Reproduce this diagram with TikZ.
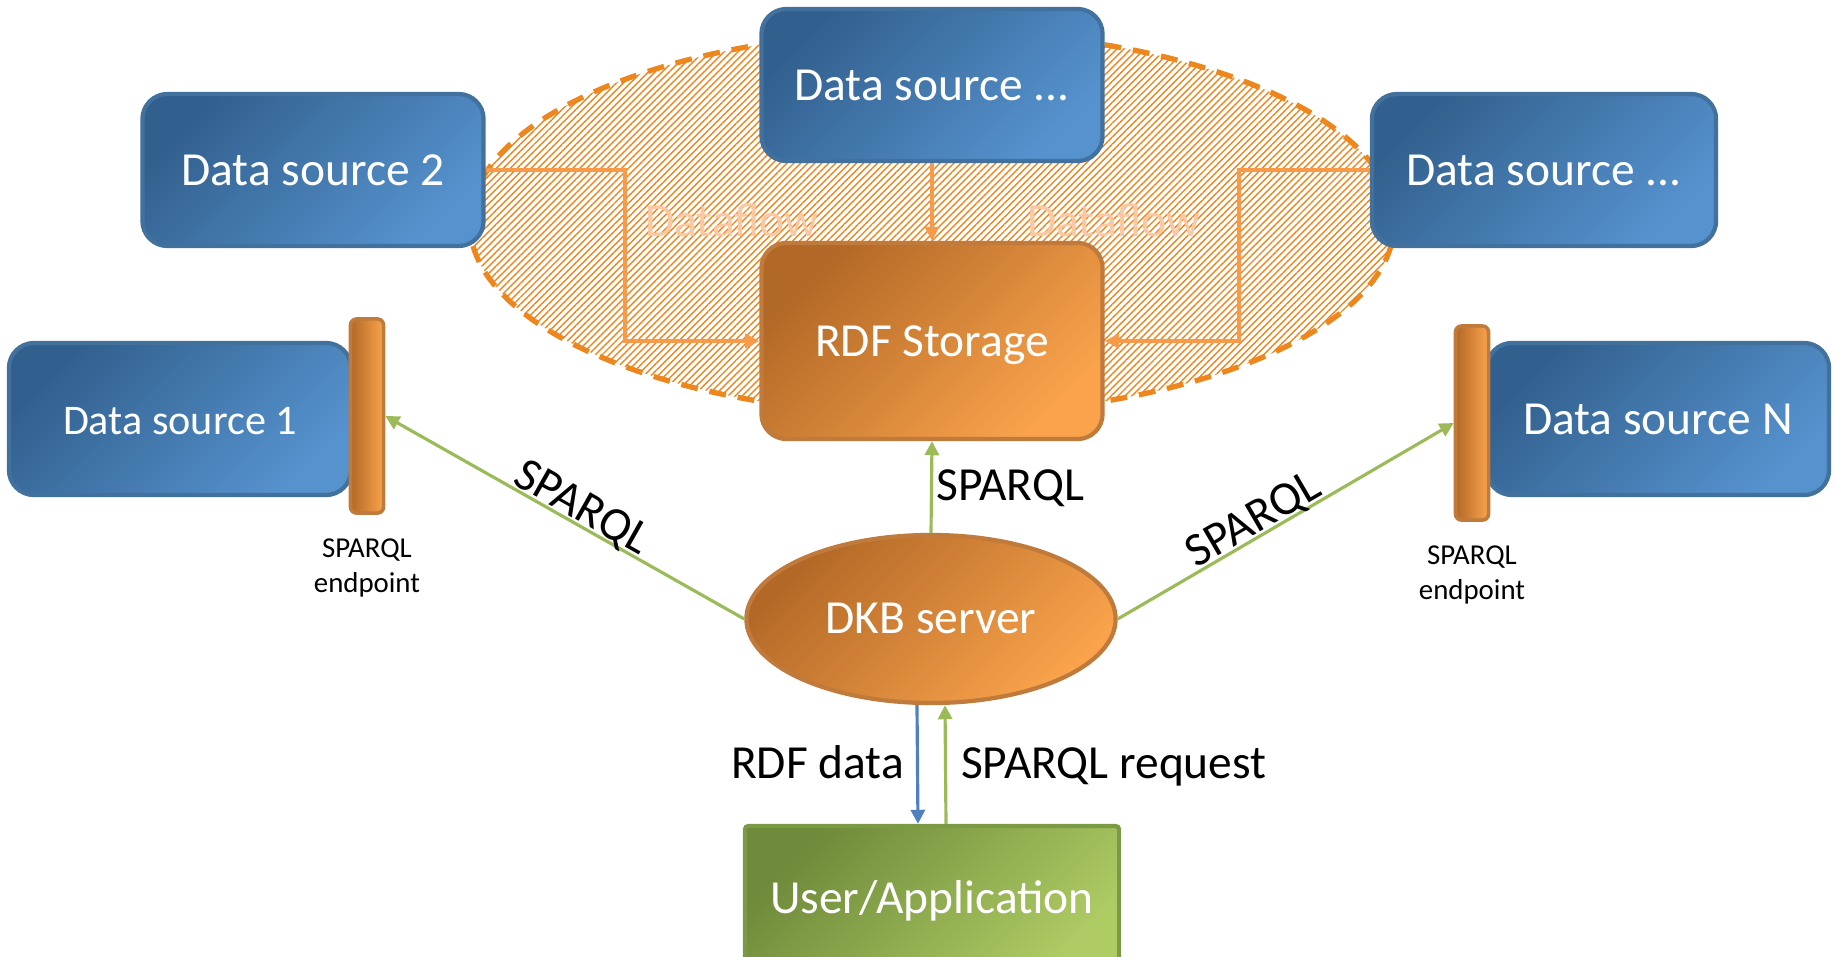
\documentclass[tikz,border=0pt]{standalone}
\usepackage{fontspec}
\setmainfont{Carlito}
\usetikzlibrary{shapes}
\usetikzlibrary{positioning}
\usetikzlibrary{arrows.meta}
\usetikzlibrary{patterns.meta}

\definecolor{srcDark}{RGB}{50,96,142}
\definecolor{srcLight}{RGB}{86,146,206}
\definecolor{srcEdge}{RGB}{65,113,156}
\definecolor{orgDark}{RGB}{178,104,38}
\definecolor{orgLight}{RGB}{250,163,76}
\definecolor{orgEdge}{RGB}{192,122,60}
\definecolor{appDark}{RGB}{110,138,58}
\definecolor{appLight}{RGB}{174,203,100}
\definecolor{appEdge}{RGB}{122,155,68}
\definecolor{cloudEdge}{RGB}{238,134,30}
\definecolor{flowLine}{RGB}{247,155,75}
\definecolor{flowText}{RGB}{250,200,162}
\definecolor{sparqlGreen}{RGB}{155,187,89}
\definecolor{rdfBlue}{RGB}{79,129,189}

\begin{document}
\begin{tikzpicture}[x=0.01cm, y=-0.01cm,
    datasrc/.style = {rectangle, rounded corners=0.25cm, draw=srcEdge, line width=1.2pt,
                      top color=srcDark, bottom color=srcLight, shading angle=45,
                      text=white, minimum width=3.41cm, minimum height=1.52cm,
                      text height=0.88em, text depth=0pt,
                      font=\fontsize{13.5}{16}\selectfont},
    rdfstore/.style = {rectangle, rounded corners=0.25cm, draw=orgEdge, line width=1.2pt,
                       top color=orgDark, bottom color=orgLight, shading angle=45,
                       text=white, minimum width=3.41cm, minimum height=1.96cm,
                       text height=0.88em, text depth=0pt,
                       font=\fontsize{13.5}{16}\selectfont},
    endpt/.style = {rectangle, rounded corners=0.06cm, draw=orgEdge, line width=1pt,
                    left color=orgDark, right color=orgLight, inner sep=0pt,
                    minimum width=0.33cm, minimum height=1.94cm},
    server/.style = {ellipse, draw=orgEdge, line width=1.2pt,
                     top color=orgDark, bottom color=orgLight, shading angle=45,
                     text=white, inner sep=0pt, minimum width=3.69cm, minimum height=1.68cm,
                     text height=0.8em, text depth=0pt,
                     font=\fontsize{13.5}{16}\selectfont},
    userapp/.style = {rectangle, rounded corners=1pt, draw=appEdge, line width=1.2pt,
                      top color=appDark, bottom color=appLight, shading angle=45,
                      text=white, minimum width=3.74cm, minimum height=1.5cm,
                      font=\fontsize{13.5}{16}\selectfont},
    cloud/.style = {ellipse, draw=cloudEdge, line width=1.5pt, dash pattern=on 4.8pt off 3.4pt,
                    pattern={Lines[angle=45, distance=1.4pt, line width=0.4pt]},
                    pattern color=cloudEdge, inner sep=0pt,
                    minimum width=9.24cm, minimum height=3.84cm},
    flowarrow/.style = {draw=flowLine, line width=1pt, -{Triangle[length=4pt, width=4pt]}},
    queryarrow/.style = {draw=sparqlGreen, line width=0.9pt, -{Triangle[length=4pt, width=4pt]}},
    dataarrow/.style = {draw=rdfBlue, line width=0.9pt, -{Triangle[length=4pt, width=4pt]}},
    linelabel/.style = {text=black, text height=0.8em, text depth=0.03em,
                        font=\fontsize{13.5}{16}\selectfont},
    flowlabel/.style = {text=flowText, font=\fontsize{13.5}{16}\selectfont},
    eplabel/.style = {align=center, inner sep=0pt, font=\fontsize{8.2}{10}\selectfont}]

    \useasboundingbox (0,0) rectangle (1835,957);
    \clip (0,0) rectangle (1835,957);

    % shaded area behind the dataflow
    \node[cloud] (area) at (932,223) {};

    \node[datasrc] (dsTop) at (932,85) {Data source ...};
    \node[datasrc] (ds2) at (313,170) {Data source 2};
    \node[datasrc, minimum width=3.44cm] (dsR) at (1544,170) {Data source ...};
    \node[rdfstore] (rdf) at (932,341) {RDF Storage};

    \node[datasrc, minimum width=3.42cm, font=\fontsize{12}{14}\selectfont] (ds1) at (180,419) {Data source 1};
    \node[datasrc, minimum width=3.42cm] (dsN) at (1658,419) {Data source N};
    \node[endpt] (epL) at (367,416) {};
    \node[endpt] (epR) at (1472,423) {};
    \node[eplabel, below=2.3mm of epL] (epLtext) {SPARQL\\endpoint};
    \node[eplabel, below=2.3mm of epR] (epRtext) {SPARQL\\endpoint};

    \node[server] (dkb) at (931,619) {DKB server};
    \node[userapp] (user) at (932,901) {User/Application};

    \node[flowlabel] (flowL) at (732,220) {Dataflow};
    \node[flowlabel] (flowR) at (1114,220) {Dataflow};

    % dataflow into the storage
    \draw[flowarrow] (ds2.east) -- ++(139.5,0) |- (rdf.west);
    \draw[flowarrow] (dsR.west) -- ++(-131,0) |- (rdf.east);
    \draw[flowarrow] (dsTop.south) -- (rdf.north);

    % queries
    \draw[queryarrow] (dkb.west) -- (epL.east) node [pos=0.475, above, sloped, inner sep=0.6pt, linelabel, text depth=0pt] {SPARQL};
    \draw[queryarrow] (dkb.east) -- (epR.west) node [pos=0.43, above, sloped, inner sep=0.6pt, linelabel, text depth=0pt] {SPARQL};
    \draw[queryarrow] (dkb.north) -- (rdf.south) node [midway, right, inner sep=1pt, linelabel] {SPARQL};

    \draw[dataarrow] ([xshift=-0.14cm]dkb.south) -- ([xshift=-0.14cm]user.north) node [midway, left, inner sep=3.4pt, linelabel] {RDF data};
    \draw[queryarrow] ([xshift=0.14cm]user.north) -- ([xshift=0.14cm]dkb.south) node [midway, right, inner sep=4pt, linelabel] {SPARQL request};

\end{tikzpicture}
\end{document}
